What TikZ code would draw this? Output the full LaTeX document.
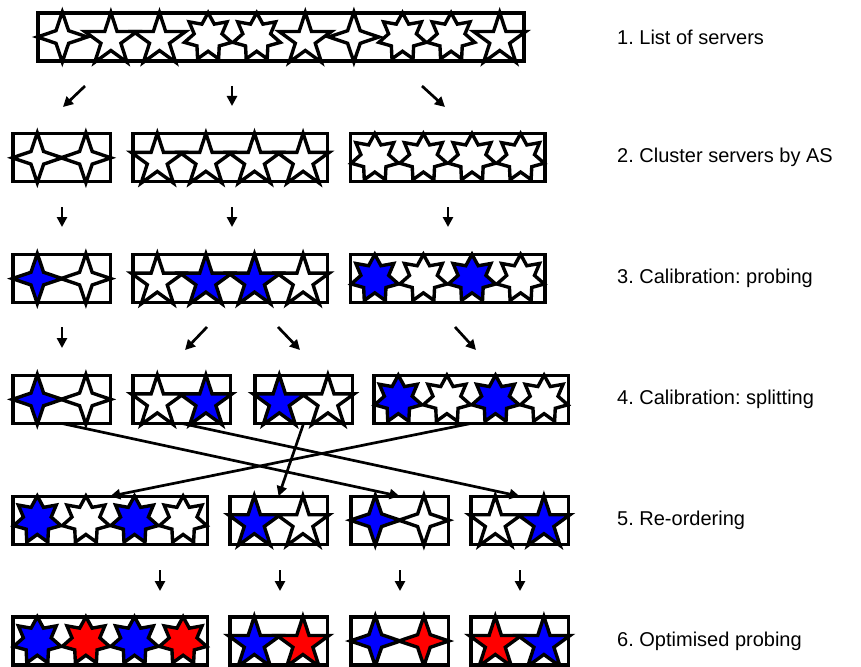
\documentclass[tikz,border=0pt]{standalone}
\usepackage{fontspec}
\setmainfont{Liberation Sans}
\usetikzlibrary{shapes.geometric,arrows.meta,calc}
\definecolor{srvblue}{RGB}{0,0,255}
\definecolor{srvred}{RGB}{255,0,0}
\frenchspacing
\tikzset{
  box/.style={draw, line width=3.2pt, minimum height=48pt, inner sep=0pt, outer sep=0pt, anchor=north west},
  srv/.style={star, draw, line width=3.4pt, inner sep=0pt, outer sep=0pt},
  four/.style={srv, star points=4, star point ratio=2.8, minimum size=50pt},
  five/.style={srv, star points=5, star point ratio=2.618, minimum size=55pt, yshift=-3pt},
  seven/.style={srv, star points=7, star point ratio=1.7, minimum size=48.5pt},
  arr/.style={line width=2.7pt, -{Triangle[length=10pt,width=10pt]}},
  lbl/.style={anchor=west, inner sep=0pt, font=\fontsize{20}{24}\selectfont},
}
% fill a box with its row of servers: kind/colour pairs, one per 48.6pt cell
\newcommand\putservers[2]{%
  \foreach \kind/\tint [count=\k] in {#2}
    \node[\kind, fill=\tint] (#1s\k) at ($(#1.north west)+(\k*48.6-24.3,24)$) {};
}
\begin{document}
\begin{tikzpicture}[x=1pt, y=-1pt]
\useasboundingbox (0,0) rectangle (861,666);

% 1. list of servers
\node[box, minimum width=486pt] (r1) at (38,13) {};
\putservers{r1}{four/white,five/white,five/white,seven/white,seven/white,five/white,four/white,seven/white,seven/white,five/white}

% 2. clusters
\node[box, minimum width=97.2pt]  (r2a) at (13,133.8) {};
\node[box, minimum width=194.4pt] (r2b) at (133,133.8) {};
\node[box, minimum width=194.4pt] (r2c) at (350.5,133.8) {};
\putservers{r2a}{four/white,four/white}
\putservers{r2b}{five/white,five/white,five/white,five/white}
\putservers{r2c}{seven/white,seven/white,seven/white,seven/white}

% 3. probing
\node[box, minimum width=97.2pt]  (r3a) at (13,254.6) {};
\node[box, minimum width=194.4pt] (r3b) at (133,254.6) {};
\node[box, minimum width=194.4pt] (r3c) at (350.5,254.6) {};
\putservers{r3a}{four/srvblue,four/white}
\putservers{r3b}{five/white,five/srvblue,five/srvblue,five/white}
\putservers{r3c}{seven/srvblue,seven/white,seven/srvblue,seven/white}

% 4. splitting
\node[box, minimum width=97.2pt]  (r4a) at (13,375.4) {};
\node[box, minimum width=97.2pt]  (r4b) at (133,375.4) {};
\node[box, minimum width=97.2pt]  (r4c) at (255,375.4) {};
\node[box, minimum width=194.4pt] (r4d) at (374,375.4) {};
\putservers{r4a}{four/srvblue,four/white}
\putservers{r4b}{five/white,five/srvblue}
\putservers{r4c}{five/srvblue,five/white}
\putservers{r4d}{seven/srvblue,seven/white,seven/srvblue,seven/white}

% 5. re-ordering
\node[box, minimum width=194.4pt] (r5a) at (13,496.2) {};
\node[box, minimum width=97.2pt]  (r5b) at (230,496.2) {};
\node[box, minimum width=97.2pt]  (r5c) at (351,496.2) {};
\node[box, minimum width=97.2pt]  (r5d) at (471,496.2) {};
\putservers{r5a}{seven/srvblue,seven/white,seven/srvblue,seven/white}
\putservers{r5b}{five/srvblue,five/white}
\putservers{r5c}{four/srvblue,four/white}
\putservers{r5d}{five/white,five/srvblue}

% 6. optimised probing
\node[box, minimum width=194.4pt] (r6a) at (13,617) {};
\node[box, minimum width=97.2pt]  (r6b) at (230,617) {};
\node[box, minimum width=97.2pt]  (r6c) at (351,617) {};
\node[box, minimum width=97.2pt]  (r6d) at (471,617) {};
\putservers{r6a}{seven/srvblue,seven/srvred,seven/srvblue,seven/srvred}
\putservers{r6b}{five/srvblue,five/srvred}
\putservers{r6c}{four/srvblue,four/srvred}
\putservers{r6d}{five/srvred,five/srvblue}

% short step arrows
\coordinate (a1s) at (85,86);   \coordinate (a1e) at (63,107);
\coordinate (a2s) at (232,86);  \coordinate (a2e) at (232,106);
\coordinate (a3s) at (422,86);  \coordinate (a3e) at (445,107);
\coordinate (b1s) at (62,207);  \coordinate (b1e) at (62,227);
\coordinate (b2s) at (232,207); \coordinate (b2e) at (232,227);
\coordinate (b3s) at (448,207); \coordinate (b3e) at (448,227);
\coordinate (c1s) at (62,327);  \coordinate (c1e) at (62,348);
\coordinate (c2s) at (207,327); \coordinate (c2e) at (185,350);
\coordinate (c3s) at (278,327); \coordinate (c3e) at (300,350);
\coordinate (c4s) at (455,327); \coordinate (c4e) at (476,350);
\coordinate (d1s) at (160,570); \coordinate (d1e) at (160,591);
\coordinate (d2s) at (280,570); \coordinate (d2e) at (280,591);
\coordinate (d3s) at (400,570); \coordinate (d3e) at (400,591);
\coordinate (d4s) at (520,570); \coordinate (d4e) at (520,591);
\foreach \p in {a1,a2,a3,b1,b2,b3,c1,c2,c3,c4,d1,d2,d3,d4}
  \draw[arr] (\p s) -- (\p e);

% re-ordering connectors
\draw[arr] (r4a.south) -- (r5c.north);
\draw[arr] (r4b.south) -- (r5d.north);
\draw[arr] (r4c.south) -- (r5b.north);
\draw[arr] (r4d.south) -- (r5a.north);

% step labels
\node[lbl] (l1) at (617,37)    {1. List of servers};
\node[lbl] (l2) at (617,157.8) {2. Cluster servers by AS};
\node[lbl] (l3) at (617,278.6) {3. Calibration: probing};
\node[lbl] (l4) at (617,399.4) {4. Calibration: splitting};
\node[lbl] (l5) at (617,520.2) {5. Re-ordering};
\node[lbl] (l6) at (617,641)   {6. Optimised probing};
\end{tikzpicture}
\end{document}
